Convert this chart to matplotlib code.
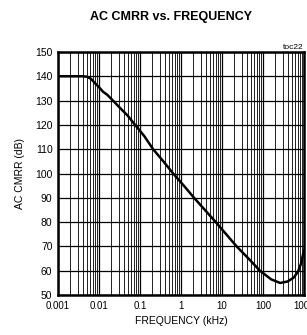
import numpy as np
import matplotlib
matplotlib.use('Agg')
import matplotlib.pyplot as plt
from matplotlib.ticker import FixedLocator, LogLocator, NullFormatter

plt.rcParams['font.family'] = ['Liberation Sans', 'DejaVu Sans']

# 읽어온 곡선 (log10 kHz, dB)
log_freq = [-3.0, -2.4, -2.3, -2.2, -2.1, -2.0, -1.9, -1.8, -1.66, -1.5, -1.3, -1.12,
            -0.9, -0.68, -0.43, -0.19, 0.07, 0.32, 0.85, 1.36, 1.65, 1.93, 2.2, 2.42,
            2.6, 2.75, 2.85, 2.93, 3.0]
cmrr = [140, 140, 139.8, 139, 137.2, 135.5, 133.6, 132.4, 130, 127.2, 123.8, 120,
        115.5, 110, 105, 100, 95, 90, 80, 70, 65, 60, 56.5, 55,
        55.6, 57.2, 59.5, 63, 68.5]
freq = 10 ** np.array(log_freq)

xticks = [0.001, 0.01, 0.1, 1, 10, 100, 1000]
xlabels = ['0.001', '0.01', '0.1', '1', '10', '100', '1000']
yticks = [50, 60, 70, 80, 90, 100, 110, 120, 130, 140, 150]

fig = plt.figure(figsize=(3.07, 3.35), dpi=100, facecolor='white')
ax = fig.add_axes([0.189, 0.119, 0.801, 0.726])

ax.plot(freq, cmrr, color='black', linewidth=1.8)

ax.set_xscale('log')
ax.set_xlim(0.001, 1000)
ax.set_ylim(50, 150)
ax.xaxis.set_major_locator(FixedLocator(xticks))
ax.set_xticklabels(xlabels)
ax.xaxis.set_minor_locator(LogLocator(base=10, subs=np.arange(2, 10)))
ax.xaxis.set_minor_formatter(NullFormatter())
ax.set_yticks(yticks)

ax.grid(True, which='major', axis='both', color='black', linewidth=0.9)
ax.grid(True, which='minor', axis='x', color='#202020', linewidth=0.7)
ax.tick_params(which='both', length=0, labelsize=7, pad=4)
ax.tick_params(axis='y', labelsize=7.5)

for s in ax.spines.values():
    s.set_linewidth(1.8)

ax.set_xlabel('FREQUENCY (kHz)', fontsize=7.5, labelpad=4)
ax.set_ylabel('AC CMRR (dB)', fontsize=7.5, labelpad=7)
fig.text(0.557, 0.948, 'AC CMRR vs. FREQUENCY', fontsize=9, fontweight='bold',
         ha='center', va='center')
ax.text(1.0, 1.004, 'toc22', transform=ax.transAxes, fontsize=6, ha='right', va='bottom')

plt.savefig('out.png', dpi=100)
